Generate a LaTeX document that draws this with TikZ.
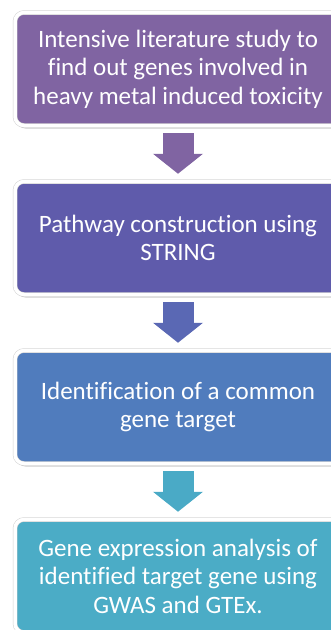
\documentclass[tikz,border=0pt]{standalone}
\usepackage{fontspec}
\setmainfont{Carlito}[Ligatures={NoCommon}]
\usetikzlibrary{positioning,shadows,arrows.meta}

\definecolor{litcol}{RGB}{128,100,162}
\definecolor{pathcol}{RGB}{95,91,171}
\definecolor{targcol}{RGB}{80,124,189}
\definecolor{exprcol}{RGB}{75,172,198}
\definecolor{arrcolA}{RGB}{128,100,162}
\definecolor{arrcolB}{RGB}{90,104,180}
\definecolor{arrcolC}{RGB}{74,170,198}

\tikzset{
  stage/.style={draw=black!18, line width=0.5pt, double=white, double distance=3.5pt,
    rounded corners=9pt, text=white,
    minimum width=326pt, minimum height=113pt, align=center,
    font=\fontsize{25}{28.5}\selectfont,
    drop shadow={shadow xshift=1.5pt, shadow yshift=-3pt, opacity=0.4}},
  flow/.style={line width=31pt, -{Triangle[width=49pt,length=20pt]},
    shorten <=7.5pt, shorten >=7.5pt}
}

\begin{document}
\begin{tikzpicture}

\clip (0,0) rectangle (331pt,-630pt);

\node[stage, fill=litcol] (lit) at (178pt,-69pt)
  {Intensive literature study to\\find out genes involved in\\heavy metal induced toxicity};
\node[stage, fill=pathcol, below=55.5pt of lit] (path)
  {Pathway construction using\\STRING};
\node[stage, fill=targcol, below=55.5pt of path] (targ)
  {Identification of a common\\gene target};
\node[stage, fill=exprcol, below=55.5pt of targ] (expr)
  {Gene expression analysis of\\identified target gene using\\GWAS and GTEx.};

\draw[flow, arrcolA] (lit.south) -- (path.north);
\draw[flow, arrcolB] (path.south) -- (targ.north);
\draw[flow, arrcolC] (targ.south) -- (expr.north);
\end{tikzpicture}
\end{document}
